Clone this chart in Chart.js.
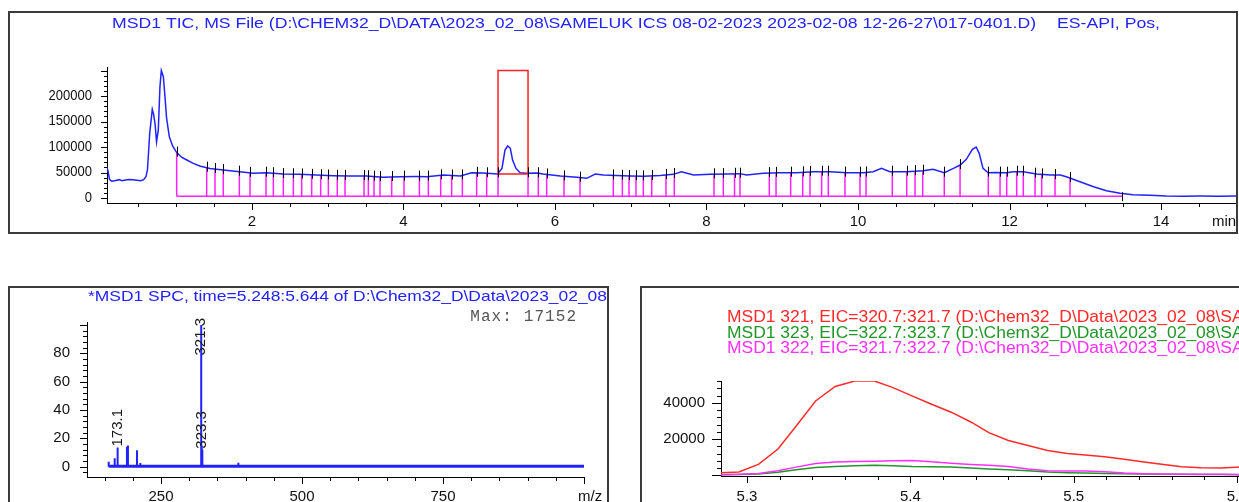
<!DOCTYPE html>
<html>
<head>
<meta charset="utf-8">
<script src="https://cdn.jsdelivr.net/npm/chart.js@4.4.1/dist/chart.umd.min.js"></script>
<style>
  html, body { margin: 0; padding: 0; background: #fff; overflow: hidden; }
  body { width: 1239px; height: 502px; position: relative; }
  .box { position: absolute; border: 2px solid #3a3a3a; box-sizing: border-box; overflow: hidden; background: #fff; }
  .box canvas { position: absolute; left: 0; top: 0; }
</style>
</head>
<body>
<div class="box" style="left:8px;top:11px;width:1230px;height:223px;"><canvas id="ticChart"></canvas></div>
<div class="box" style="left:8px;top:286px;width:601px;height:240px;"><canvas id="spcChart"></canvas></div>
<div class="box" style="left:640px;top:286px;width:700px;height:240px;"><canvas id="eicChart"></canvas></div>
<script>
// ---- TIC (top panel) ----
const tcTime = [0.086, 0.10, 0.12, 0.15, 0.20, 0.25, 0.28, 0.33, 0.38, 0.43, 0.48, 0.53, 0.57, 0.60, 0.62,
  0.65, 0.684, 0.70, 0.72, 0.74, 0.763, 0.785, 0.803, 0.83, 0.851, 0.873, 0.909, 0.952, 1.006, 1.07,
  1.14, 1.225, 1.31, 1.445, 1.62, 1.84, 2.02, 2.19, 2.41, 2.63, 2.85, 3.07, 3.29, 3.51, 3.73,
  3.95, 4.17, 4.31, 4.53, 4.75, 4.90, 5.05, 5.24, 5.30, 5.34, 5.375, 5.41, 5.44, 5.485, 5.54,
  5.63, 5.76, 5.845, 6.07, 6.29, 6.42, 6.53, 6.64, 6.81, 6.99, 7.17, 7.39, 7.56, 7.67, 7.83,
  8.05, 8.27, 8.44, 8.53, 8.75, 8.97, 9.19, 9.41, 9.63, 9.85, 10.07, 10.20, 10.31, 10.42, 10.64,
  10.86, 10.99, 11.14, 11.26, 11.35, 11.43, 11.51, 11.56, 11.60, 11.65, 11.72, 11.83, 11.96, 12.05, 12.18,
  12.36, 12.54, 12.67, 12.75, 12.93, 13.11, 13.28, 13.46, 13.63, 13.85, 14.07, 14.30, 14.52, 14.75, 14.99];
const tcSignal = [60000, 52000, 36000, 33000, 34500, 36000, 34000, 35500, 36500, 36000, 35000, 34000, 36000, 42000, 55000,
  127000, 174000, 165000, 146000, 110000, 133000, 218000, 250000, 238000, 199000, 156000, 120000, 102000, 89000, 80000,
  74500, 68000, 62700, 58000, 55000, 51600, 48400, 49700, 47000, 46400, 45100, 43800, 43100, 43100, 40500,
  41800, 42000, 41800, 45100, 43100, 49700, 49000, 47000, 58000, 94000, 102000, 97500, 74500, 58000, 49600,
  48400, 49000, 47000, 43100, 40500, 38600, 47000, 45100, 44000, 43100, 42500, 44000, 46400, 51600, 45100,
  46400, 47000, 47800, 45100, 48400, 49600, 49600, 51600, 51600, 49600, 49600, 51600, 58000, 51600, 51600,
  53600, 56200, 49600, 58000, 64700, 75900, 95500, 100000, 87600, 58000, 49600, 50000, 49600, 51600, 51600,
  47000, 45100, 45100, 41800, 32000, 22200, 14300, 9200, 6500, 5200, 3900, 3600, 3900, 3500, 3800];
const tcXTicks = [2, 4, 6, 8, 10, 12, 14];
const tcYTicks = [0, 50000, 100000, 150000, 200000];
const dropTimes = [1.006, 1.402, 1.512, 1.621, 1.833, 1.974, 2.185, 2.282, 2.414, 2.546, 2.656, 2.788, 2.907,
  3.008, 3.126, 3.228, 3.479, 3.536, 3.611, 3.690, 3.844, 4.007, 4.21, 4.328, 4.491, 4.636, 4.777, 4.966,
  5.098, 5.248, 5.644, 5.780, 5.890, 6.119, 6.330, 6.770, 6.889, 6.977, 7.069, 7.166, 7.277, 7.465, 7.575,
  8.099, 8.222, 8.37, 8.442, 8.829, 8.918, 9.111, 9.270, 9.366, 9.520, 9.608, 9.828, 10.026, 10.106, 10.453,
  10.643, 10.753, 10.854, 11.139, 11.347, 11.720, 11.875, 11.963, 12.095, 12.182, 12.337, 12.425, 12.601, 12.799];
const baseLevel = 3500;
const baseSpan = [1.006, 13.49];
const spcRange = [5.248, 5.644];
const spcBoxLevels = [47000, 250000];

// ---- spectrum (bottom left) ----
const specMz  = [157.3, 167.9, 173.1, 189.6, 191.4, 207.4, 213.4, 321.3, 322.3, 323.3, 387.2, 401.5, 640.2, 960.4];
const specPct = [3.5, 6, 13.5, 14, 15, 11.5, 2.5, 100, 15, 12, 2.8, 1.0, 0.6, 1.0];
const specLabeled = [173.1, 321.3, 323.3];
const specFloorMz = [157.3, 1000];
const specFloorPct = [0.3, 0.3];
const specXTicks = [250, 500, 750];
const specYTicks = [0, 20, 40, 60, 80];
const specMaxCount = 17152;

// ---- extracted ion chromatograms (bottom right) ----
const eicTime = [5.283, 5.295, 5.307, 5.319, 5.330, 5.342, 5.354, 5.366, 5.378, 5.389, 5.401, 5.413, 5.425, 5.437,
  5.448, 5.460, 5.472, 5.484, 5.496, 5.507, 5.519, 5.531, 5.543, 5.555, 5.566, 5.578, 5.590, 5.602, 5.614, 5.625, 5.637, 5.649];
const eic321 = [1400, 1800, 6000, 14500, 27000, 41000, 49000, 52000, 52000, 48500, 43800, 39200, 34800, 29400,
  23500, 19200, 16400, 13700, 12000, 11200, 10200, 8900, 7300, 5900, 4700, 4100, 4000, 4500, 4800, 5000, 4800, 4500];
const eic323 = [300, 400, 700, 1700, 3000, 4300, 4900, 5300, 5500, 5200, 4800, 4700, 4500, 4000,
  3500, 3000, 2500, 1800, 1400, 1200, 1000, 900, 700, 600, 500, 400, 400, 350, 300, 300, 300, 300];
const eic322 = [300, 500, 1000, 2500, 4500, 6500, 7300, 7600, 7800, 8000, 8100, 7400, 6700, 6000,
  5500, 4800, 3500, 2500, 2400, 2400, 2000, 1300, 900, 700, 600, 500, 500, 400, 400, 400, 400, 400];
const eicXTicks = [5.3, 5.4, 5.5, 5.6];
const eicYTicks = [20000, 40000];

const BLUE = '#2222ff';
const MAGENTA = '#ff22ff';

function pts(xs, ys) {
  return xs.map((x, i) => ({ x: x, y: ys[i] }));
}
function signalAt(t) {
  for (let i = 1; i < tcTime.length; i++) {
    if (tcTime[i] >= t) {
      const f = (t - tcTime[i - 1]) / (tcTime[i] - tcTime[i - 1]);
      return tcSignal[i - 1] + f * (tcSignal[i] - tcSignal[i - 1]);
    }
  }
  return tcSignal[tcSignal.length - 1];
}

function drawText(ctx, s, x, y, o) {
  ctx.save();
  ctx.font = o.font;
  ctx.fillStyle = o.color || '#111';
  ctx.textBaseline = 'middle';
  let sx = o.sx || 1;
  if (o.fit) sx = o.fit[1] / ctx.measureText(o.fit[0]).width;
  const w = ctx.measureText(s).width * sx;
  let x0 = x;
  if (o.align === 'right') x0 = x - w;
  if (o.align === 'center') x0 = x - w / 2;
  ctx.translate(x0, y);
  ctx.scale(sx, 1);
  ctx.textAlign = 'left';
  ctx.fillText(s, 0, 0);
  ctx.restore();
  return sx;
}

// tick marks, minor ticks and labels, all placed with the chart's scales
function drawAxis(chart, ax) {
  const ctx = chart.ctx;
  const s = chart.scales[ax.id];
  const area = chart.chartArea;
  const horiz = ax.id === 'x';
  const base = horiz ? area.bottom : area.left;
  const ratio = Math.round(ax.major / ax.minor);
  ctx.save();
  ctx.strokeStyle = '#000';
  ctx.lineWidth = 1;
  ctx.beginPath();
  const n0 = Math.ceil(s.min / ax.minor - 1e-6), n1 = Math.floor(s.max / ax.minor + 1e-6);
  for (let n = n0; n <= n1; n++) {
    const isMajor = ((n % ratio) + ratio) % ratio === 0;
    const len = isMajor ? ax.majorLen : ax.minorLen;
    const p = Math.round(s.getPixelForValue(n * ax.minor)) + 0.5;
    if (horiz) { ctx.moveTo(p, base); ctx.lineTo(p, base + len); }
    else { ctx.moveTo(base, p); ctx.lineTo(base - len, p); }
  }
  ctx.stroke();
  ctx.restore();
  ax.labels.forEach(v => {
    const p = s.getPixelForValue(v);
    const txt = ax.fmt ? ax.fmt(v) : String(v);
    if (horiz) drawText(ctx, txt, p, base + ax.dist, { font: ax.font, align: 'center', sx: ax.sx });
    else drawText(ctx, txt, base - ax.dist, p, { font: ax.font, align: 'right', sx: ax.sx });
  });
}

const decorPlugin = {
  id: 'msdDecor',
  afterDraw(chart, args, opts) {
    (opts.axes || []).forEach(ax => drawAxis(chart, ax));
    if (opts.extra) opts.extra(chart);
  }
};

function buildChart(id, w, h, area, xr, yr, datasets, decor) {
  const cv = document.getElementById(id);
  cv.width = w;
  cv.height = h;
  return new Chart(cv, {
    type: 'scatter',
    data: { datasets: datasets },
    options: {
      responsive: false,
      animation: false,
      events: [],
      layout: { padding: { left: 0, top: area.top, right: w - area.right, bottom: 0 } },
      elements: { point: { radius: 0 }, line: { tension: 0 } },
      plugins: { legend: { display: false }, tooltip: { enabled: false }, msdDecor: decor },
      scales: {
        x: {
          type: 'linear', min: xr[0], max: xr[1],
          grid: { display: false }, ticks: { display: false },
          border: { display: true, color: '#000', width: 1 },
          afterFit(s) { s.height = h - area.bottom; s.paddingLeft = 0; s.paddingRight = 0; }
        },
        y: {
          type: 'linear', min: yr[0], max: yr[1],
          grid: { display: false }, ticks: { display: false },
          border: { display: true, color: '#000', width: 1 },
          afterFit(s) { s.width = area.left; s.paddingTop = 0; s.paddingBottom = 0; }
        }
      }
    },
    plugins: [decorPlugin]
  });
}

function line(data, color, width) {
  return { data: data, showLine: true, borderColor: color, borderWidth: width, spanGaps: false, pointRadius: 0 };
}

// top: total ion chromatogram
const dropData = dropTimes.flatMap(t => [{ x: t, y: baseLevel }, { x: t, y: signalAt(t) }, { x: t, y: null }]);
const boxData = [
  { x: spcRange[0], y: spcBoxLevels[0] }, { x: spcRange[0], y: spcBoxLevels[1] },
  { x: spcRange[1], y: spcBoxLevels[1] }, { x: spcRange[1], y: spcBoxLevels[0] },
  { x: spcRange[0], y: spcBoxLevels[0] }
];
buildChart('ticChart', 1226, 219, { left: 97, top: 54, right: 1226, bottom: 190 },
  [0.086, 14.99], [-9800, 256900],
  [
    line(boxData, '#ff2020', 1.5),
    line(pts(tcTime, tcSignal), BLUE, 1.5),
    line(dropData, MAGENTA, 1.5),
    line([{ x: baseSpan[0], y: baseLevel }, { x: baseSpan[1], y: baseLevel }], MAGENTA, 1.5)
  ],
  {
    axes: [
      { id: 'x', minor: 0.5, major: 2, minorLen: 4, majorLen: 7, labels: tcXTicks, dist: 19, font: '15px "Liberation Sans", Arial' },
      { id: 'y', minor: 10000, major: 50000, minorLen: 3, majorLen: 6, labels: tcYTicks, dist: 15, font: '14px "Liberation Sans", Arial', sx: 0.93 }
    ],
    extra(chart) {
      const ctx = chart.ctx, xs = chart.scales.x, ys = chart.scales.y;
      ctx.save();
      ctx.strokeStyle = '#000';
      ctx.lineWidth = 1;
      ctx.beginPath();
      dropTimes.forEach(t => {
        const px = Math.round(xs.getPixelForValue(t)) + 0.5, py = ys.getPixelForValue(signalAt(t));
        ctx.moveTo(px, py - 6); ctx.lineTo(px, py + 4);
      });
      const ex = Math.round(xs.getPixelForValue(baseSpan[1])) + 0.5, ey = ys.getPixelForValue(baseLevel);
      ctx.moveTo(ex, ey - 4); ctx.lineTo(ex, ey + 5);
      ctx.stroke();
      ctx.restore();
      drawText(ctx, 'min', chart.chartArea.right - 24, chart.chartArea.bottom + 19, { font: '15px "Liberation Sans", Arial' });
      const head = 'MSD1 TIC, MS File (D:\\CHEM32_D\\DATA\\2023_02_08\\SAMELUK ICS 08-02-2023 2023-02-08 12-26-27\\017-0401.D)';
      const sx = drawText(ctx, head, 102, 11, { font: '15px "Liberation Sans", Arial', color: BLUE, fit: [head, 924] });
      drawText(ctx, 'ES-API, Pos,', 1047, 11, { font: '15px "Liberation Sans", Arial', color: BLUE, sx: sx });
    }
  });

// bottom left: averaged spectrum
const stickData = specMz.flatMap((m, i) => [{ x: m, y: 0 }, { x: m, y: specPct[i] }, { x: m, y: null }]);
buildChart('spcChart', 597, 236, { left: 77, top: 34, right: 574, bottom: 189 },
  [118.8, 1000], [-7.3, 102.1],
  [
    line(stickData, BLUE, 2),
    line(pts(specFloorMz, specFloorPct), BLUE, 3)
  ],
  {
    axes: [
      { id: 'x', minor: 50, major: 250, minorLen: 4, majorLen: 7, labels: specXTicks, dist: 20, font: '15px "Liberation Sans", Arial' },
      { id: 'y', minor: 4, major: 20, minorLen: 4, majorLen: 7, labels: specYTicks, dist: 17, font: '15px "Liberation Sans", Arial' }
    ],
    extra(chart) {
      const ctx = chart.ctx, xs = chart.scales.x, ys = chart.scales.y, area = chart.chartArea;
      const font = '15px "Liberation Sans", Arial';
      specLabeled.forEach(m => {
        const i = specMz.indexOf(m);
        const txt = m.toFixed(1);
        ctx.save();
        ctx.font = font;
        const tw = ctx.measureText(txt).width;
        let yb = ys.getPixelForValue(specPct[i]) - 1;
        if (yb - tw < area.top - 4) yb = area.top - 4 + tw;
        ctx.translate(xs.getPixelForValue(m), yb);
        ctx.rotate(-Math.PI / 2);
        ctx.fillStyle = '#1a1a1a';
        ctx.textBaseline = 'middle';
        ctx.fillText(txt, 0, 0);
        ctx.restore();
      });
      drawText(ctx, 'm/z', area.right - 6, area.bottom + 20, { font: '15px "Liberation Sans", Arial' });
      const shown = '*MSD1 SPC, time=5.248:5.644 of D:\\Chem32_D\\Data\\2023_02_08';
      drawText(ctx, shown + '\\SAMELUK ICS 08-02-2023 2023-02-08 12-26-27\\017-0401.D)', 78, 9,
        { font: '15px "Liberation Sans", Arial', color: BLUE, fit: [shown, 519] });
      // monospaced "Max:" note, fixed advance per character
      const note = 'Max: ' + specMaxCount;
      ctx.save();
      ctx.font = '16px "Liberation Mono", "DejaVu Sans Mono", monospace';
      ctx.fillStyle = '#555';
      ctx.textBaseline = 'middle';
      ctx.textAlign = 'center';
      for (let k = 0; k < note.length; k++) ctx.fillText(note[k], 460 + 10.7 * k + 5, 29);
      ctx.restore();
    }
  });

// bottom right: extracted ion chromatograms
buildChart('eicChart', 696, 236, { left: 79, top: 93, right: 667, bottom: 188 },
  [5.2841, 5.644], [-400, 52000],
  [
    line(pts(eicTime, eic321), '#ff2a2a', 1.5),
    line(pts(eicTime, eic322), '#ff30ff', 1.5),
    line(pts(eicTime, eic323), '#22962a', 1.5)
  ],
  {
    axes: [
      { id: 'x', minor: 0.02, major: 0.1, minorLen: 4, majorLen: 7, labels: eicXTicks, dist: 21, font: '15px "Liberation Sans", Arial', fmt: v => v.toFixed(1) },
      { id: 'y', minor: 4000, major: 20000, minorLen: 4, majorLen: 9, labels: eicYTicks, dist: 16, font: '15px "Liberation Sans", Arial' }
    ],
    extra(chart) {
      const ctx = chart.ctx;
      const font = '16px "Liberation Sans", Arial';
      const tail = ' (D:\\Chem32_D\\Data\\2023_02_08\\SAMELUK ICS 08-02-2023 2023-02-08 12-26-27\\017-0401.D)';
      const first = 'MSD1 321, EIC=320.7:321.7 (D:\\Chem32_D\\Data\\2023_02_08\\S';
      const sx = drawText(ctx, 'MSD1 321, EIC=320.7:321.7' + tail, 85, 30, { font: font, color: '#ff2a2a', fit: [first, 505] });
      drawText(ctx, 'MSD1 323, EIC=322.7:323.7' + tail, 85, 46, { font: font, color: '#22962a', sx: sx });
      drawText(ctx, 'MSD1 322, EIC=321.7:322.7' + tail, 85, 61, { font: font, color: '#ff30ff', sx: sx });
    }
  });
</script>
</body>
</html>
